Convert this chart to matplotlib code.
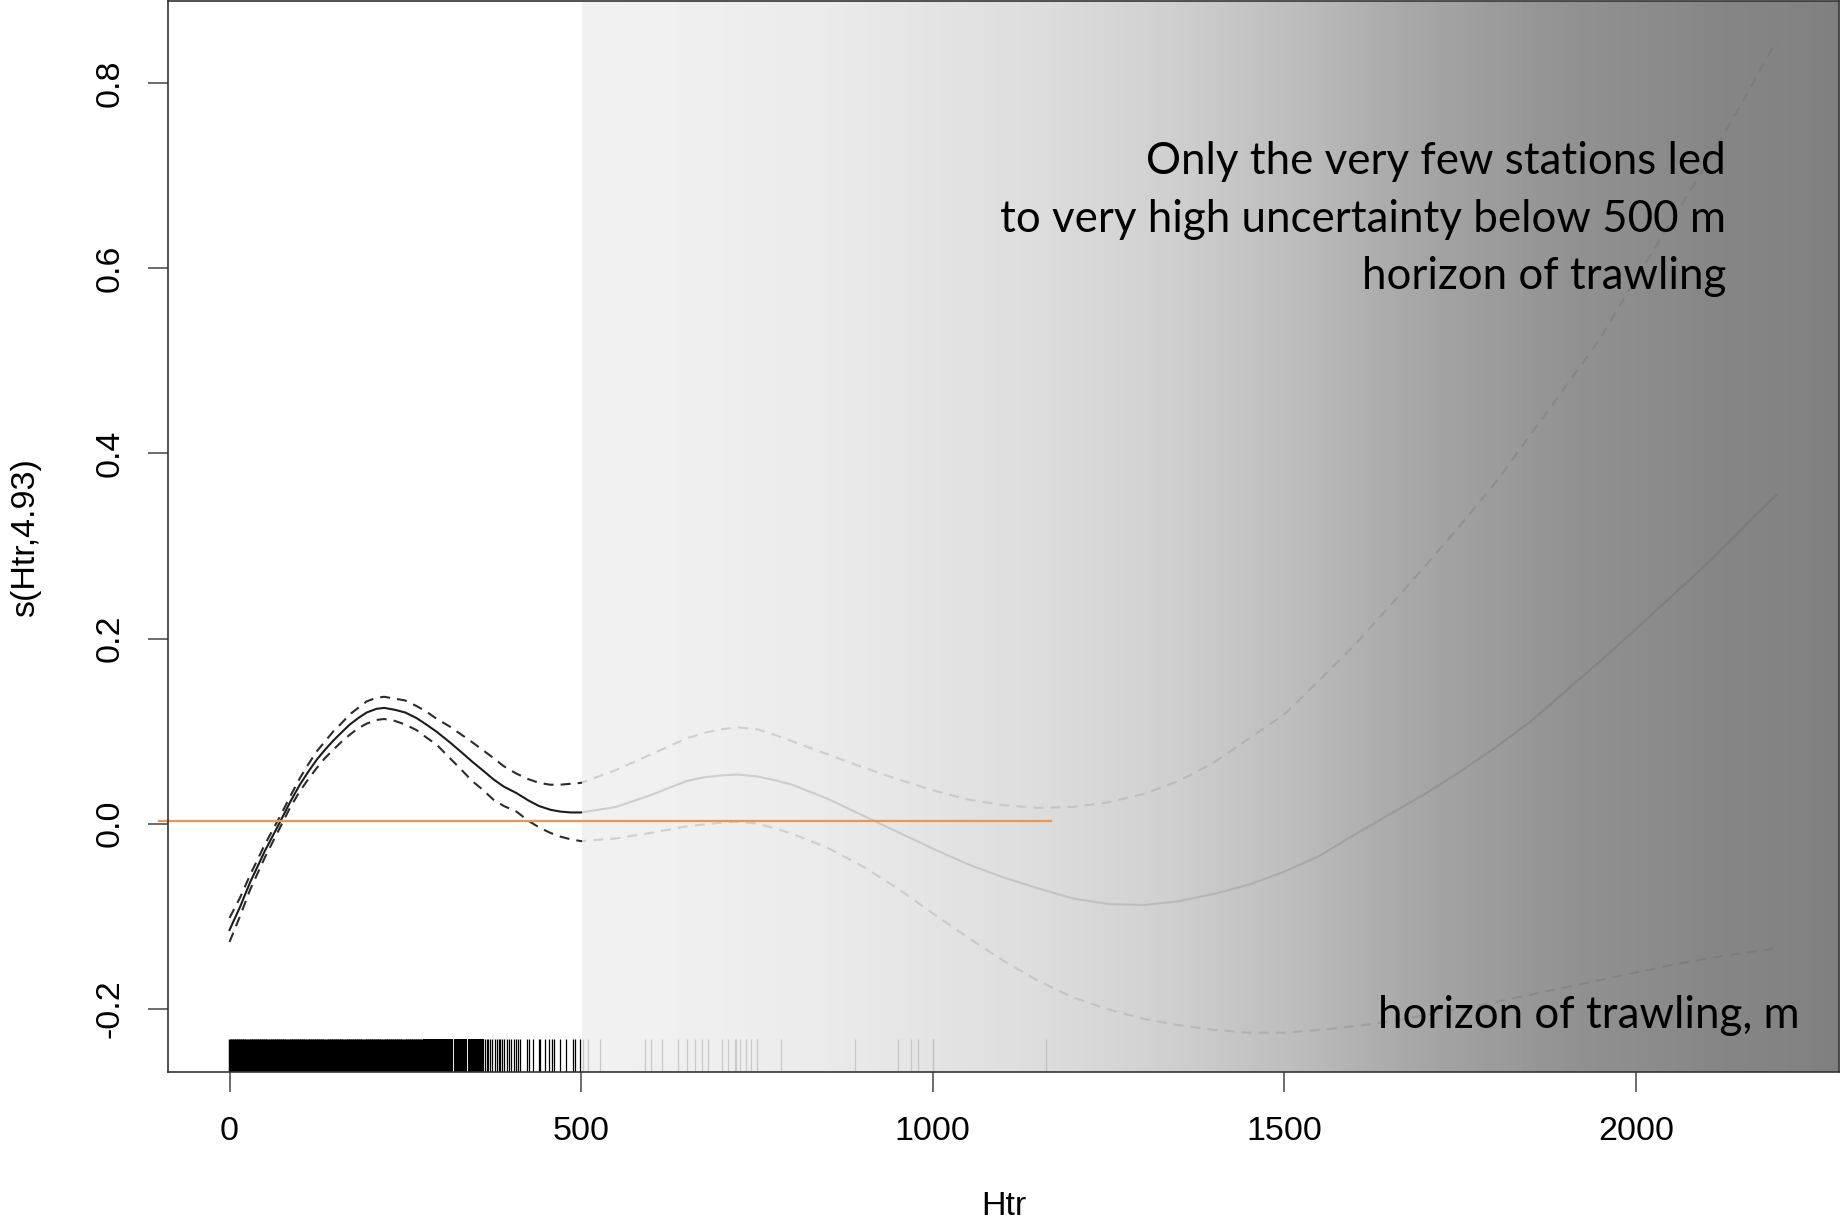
import numpy as np
import matplotlib
matplotlib.use("Agg")
import matplotlib.pyplot as plt
import matplotlib.transforms as mtransforms

# smooth term s(Htr) from the GAM, with +/- 2 se band
htr = [0, 15, 29, 50, 72, 86, 100, 112, 124, 136, 148, 160, 171, 183, 195, 209, 220,
       235, 250, 266, 280, 295, 313, 330, 345, 361, 375, 390, 408, 425, 440, 456, 470,
       485, 500,
       550, 600, 650, 675, 700, 722, 750, 775, 800, 850, 900, 950, 1000, 1050, 1100,
       1150, 1200, 1250, 1300, 1350, 1400, 1450, 1500, 1550, 1600, 1650, 1700, 1750,
       1800, 1850, 1900, 1950, 2000, 2050, 2100, 2150, 2200]
fit = [-0.115, -0.090, -0.064, -0.030, 0.002, 0.023, 0.042, 0.056, 0.069, 0.080, 0.090,
       0.099, 0.107, 0.114, 0.120, 0.124, 0.125, 0.123, 0.120, 0.114, 0.107, 0.099,
       0.088, 0.077, 0.067, 0.057, 0.048, 0.040, 0.033, 0.025, 0.019, 0.015, 0.013,
       0.012, 0.012,
       0.018, 0.031, 0.046, 0.050, 0.052, 0.053, 0.051, 0.047, 0.042, 0.027, 0.009,
       -0.009, -0.027, -0.044, -0.058, -0.070, -0.081, -0.087, -0.088, -0.084, -0.076,
       -0.066, -0.052, -0.035, -0.012, 0.010, 0.032, 0.056, 0.082, 0.110, 0.143, 0.176,
       0.210, 0.245, 0.280, 0.318, 0.355]
upper = [-0.102, -0.080, -0.056, -0.023, 0.008, 0.029, 0.049, 0.064, 0.078, 0.089,
         0.100, 0.109, 0.118, 0.125, 0.132, 0.136, 0.137, 0.135, 0.133, 0.127, 0.121,
         0.113, 0.105, 0.096, 0.088, 0.079, 0.071, 0.062, 0.054, 0.048, 0.044, 0.042,
         0.042, 0.043, 0.044,
         0.058, 0.075, 0.092, 0.098, 0.102, 0.104, 0.102, 0.096, 0.089, 0.075, 0.061,
         0.048, 0.036, 0.026, 0.020, 0.017, 0.018, 0.023, 0.032, 0.046, 0.066, 0.092,
         0.118, 0.155, 0.193, 0.235, 0.278, 0.322, 0.368, 0.420, 0.472, 0.525, 0.589,
         0.650, 0.712, 0.778, 0.846]
lower = [-0.128, -0.100, -0.072, -0.037, -0.004, 0.017, 0.035, 0.048, 0.060, 0.071,
         0.080, 0.089, 0.096, 0.103, 0.108, 0.112, 0.113, 0.111, 0.107, 0.101, 0.093,
         0.085, 0.071, 0.058, 0.046, 0.036, 0.026, 0.019, 0.013, 0.003, -0.004, -0.010,
         -0.014, -0.017, -0.019,
         -0.016, -0.010, -0.003, -0.001, 0.001, 0.002, 0.000, -0.005, -0.011, -0.026,
         -0.046, -0.070, -0.097, -0.123, -0.148, -0.170, -0.188, -0.201, -0.211, -0.218,
         -0.223, -0.226, -0.226, -0.223, -0.219, -0.214, -0.207, -0.200, -0.193, -0.185,
         -0.177, -0.169, -0.161, -0.153, -0.146, -0.140, -0.135]

# station positions for the rug (dense shallow block, then the scattered ones)
rug_dense = [0, 3, 6, 9, 12, 15, 18, 21, 24, 27, 30, 33, 36, 39, 42, 45, 48, 51, 54, 57,
             60, 63, 66, 69, 72, 75, 78, 81, 84, 87, 90, 93, 96, 99, 102, 105, 108, 111,
             114, 117, 120, 123, 126, 129, 132, 135, 138, 141, 144, 147, 150, 153, 156,
             159, 162, 165, 168, 171, 174, 177, 180, 183, 186, 189, 192, 195, 198, 201,
             204, 207, 210, 213, 216, 219, 222, 225, 228, 231, 234, 237, 240, 243, 246,
             249, 252, 255, 258, 261, 264, 267, 270, 273]
rug_mid = [276, 278, 281, 283, 286, 289, 291, 294, 297, 300, 302, 305, 308, 311, 313,
           316, 320, 323, 326, 328, 331, 334, 337, 340, 343, 346, 349, 352, 355, 358, 361]
rug_sparse = [364, 366, 368, 370, 373, 377, 380, 383, 385, 388, 391, 394, 397, 401, 404,
              408, 410, 413, 423, 426, 432, 440, 442, 449, 454, 458, 461, 470, 479, 488,
              492, 499, 503, 510, 527, 591, 600, 615, 638, 650, 662, 672, 681, 700, 709,
              719, 721, 726, 734, 742, 750, 750, 785, 889, 951, 969, 979, 1000, 1000,
              1000, 1161]

# zero reference line
ref_x = [-100, 1168]
ref_y = [0.003, 0.003]

xticks = [0, 500, 1000, 1500, 2000]
yticks = [-0.2, 0.0, 0.2, 0.4, 0.6, 0.8]

note_lines = ["Only the very few stations led",
              "to very high uncertainty below 500 m",
              "horizon of trawling"]
axis_note = "horizon of trawling, m"

xlim = (-87.5, 2289)
ylim = (-0.2685, 0.889)

tick_font = "Liberation Sans"
note_font = "Lato"

fig = plt.figure(figsize=(18.45, 12.24), dpi=100)
ax = fig.add_axes([168 / 1845, 1 - 1072 / 1224, (1839 - 168) / 1845, 1071 / 1224])
ax.set_xlim(*xlim)
ax.set_ylim(*ylim)

ax.plot(htr, fit, color="#1c1c1c", lw=1.5, zorder=2)
dash = (0, (4.8, 3.4))
ax.plot(htr, upper, color="#2c2c2c", lw=1.5, ls=dash, zorder=2)
ax.plot(htr, lower, color="#2c2c2c", lw=1.5, ls=dash, zorder=2)

rug_tr = mtransforms.blended_transform_factory(ax.transData, ax.transAxes)
ax.vlines(rug_dense, 0, 0.031, transform=rug_tr, color="black", lw=2.5, zorder=2)
ax.vlines(rug_mid, 0, 0.031, transform=rug_tr, color="black", lw=1.5, zorder=2)
ax.vlines(rug_sparse, 0, 0.031, transform=rug_tr, color="black", lw=0.9, zorder=2)

# grey fade over the poorly sampled depths
grad_x = [502, 700, 900, 1100, 1300, 1500, 1700, 1900, 2100, 2295]
grad_b = [0.95, 0.94, 0.915, 0.88, 0.83, 0.75, 0.65, 0.575, 0.53, 0.50]
xs = np.linspace(502, xlim[1], 600)
b = np.interp(xs, grad_x, grad_b)
a = np.interp(xs, [502, 1200, xlim[1]], [0.84, 0.9, 0.97])
c = (b - 1 + a) / a
img = np.zeros((1, len(xs), 4))
img[0, :, 0] = c
img[0, :, 1] = c
img[0, :, 2] = c
img[0, :, 3] = a
ax.imshow(img, extent=[502, xlim[1], ylim[0], ylim[1]], aspect="auto",
          interpolation="bilinear", zorder=2.3)

ax.plot(ref_x, ref_y, color="#f0954f", lw=1.6, clip_on=False, zorder=4)

for s in ax.spines.values():
    s.set_color("#333333")
    s.set_linewidth(1.2)
    s.set_zorder(5)

ax.set_xticks(xticks)
ax.set_xticklabels([str(v) for v in xticks], fontfamily=tick_font, fontsize=24.5)
ax.set_yticks(yticks)
ax.set_yticklabels([f"{v:.1f}" for v in yticks], fontfamily=tick_font, fontsize=24.5,
                   rotation=90, va="center")
ax.tick_params(axis="both", length=14.5, width=1.1, color="#444444")
ax.tick_params(axis="x", pad=17)
ax.tick_params(axis="y", pad=16)

fig.text(1004 / 1845, 2 / 1224, "Htr", ha="center", va="bottom",
         fontfamily=tick_font, fontsize=24.5)
fig.text(26 / 1845, 1 - 538 / 1224, "s(Htr,4.93)", ha="center", va="center",
         rotation=90, fontfamily=tick_font, fontsize=24.5)

for line, base in zip(note_lines, [174, 232, 288.5]):
    fig.text(1726 / 1845, 1 - base / 1224, line, ha="right", va="baseline",
             fontfamily=note_font, fontsize=31.6, color="black", zorder=6)
fig.text(1800 / 1845, 1 - 1028 / 1224, axis_note, ha="right", va="baseline",
         fontfamily=note_font, fontsize=31.6, color="black", zorder=6)

fig.savefig("out.png", dpi=100)
